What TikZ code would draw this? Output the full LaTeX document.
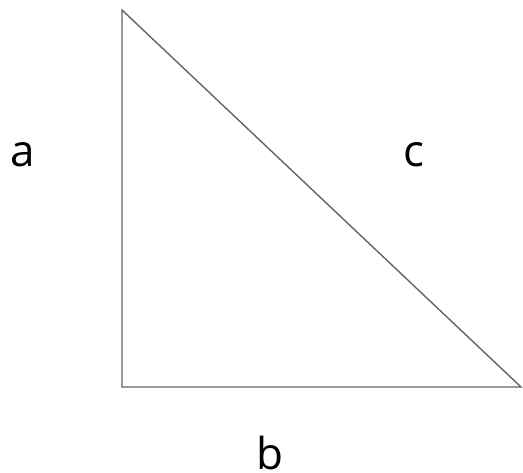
\documentclass[tikz,border=0pt]{standalone}
\usepackage{fontspec}
\setsansfont{Open Sans}
\usepackage{tikz}
\usetikzlibrary{
  calc,
  positioning
}
\definecolor{edgegray}{RGB}{100,100,100}
\tikzset{
  kant/.style={ font=\sffamily },
  side/.style={
    line width=1.4pt,
    draw=edgegray,
    line join=miter
  },
  sidelabel/.style={
    inner sep=0pt,
    anchor=base,
    font=\sffamily\fontsize{44}{44}\selectfont
  }
}

\begin{document}
\begin{tikzpicture}[kant, x=1pt, y=-1pt]
  \useasboundingbox (0,0) rectangle (523,473);
  \coordinate (top) at (122,10);
  \coordinate (corner) at (122,387);
  \coordinate (tip) at (521,387);
  \draw[side] (top) -- (corner) -- (tip) -- cycle;
  \node[sidelabel] (la) at (22.5,167) {a};
  \node[sidelabel] (lc) at (413.5,167) {c};
  \node[sidelabel] (lb) at (269.5,470) {b};
\end{tikzpicture}
\end{document}
